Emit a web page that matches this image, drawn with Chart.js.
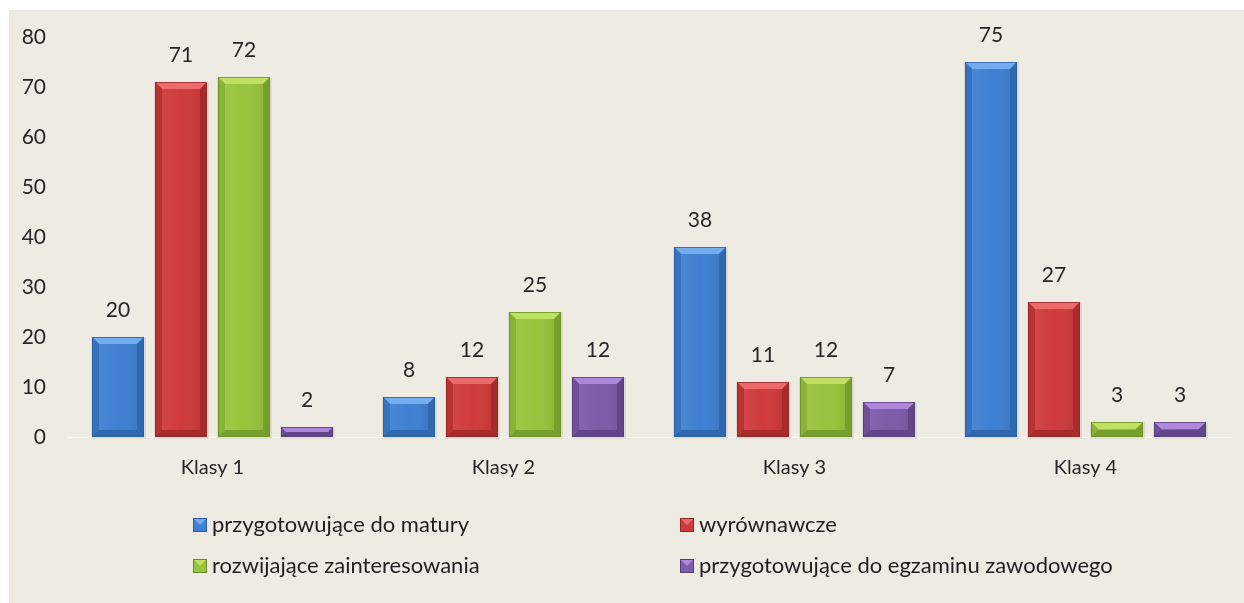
<!DOCTYPE html>
<html>
<head>
<meta charset="utf-8">
<script src="https://cdn.jsdelivr.net/npm/chart.js@4.4.1/dist/chart.umd.min.js"></script>
<style>
html,body{margin:0;padding:0;background:#ffffff;}
#wrap{width:1244px;height:603px;position:relative;}
</style>
</head>
<body>
<div id="wrap"><canvas id="c" width="1244" height="603"></canvas></div>
<script>
const categories = ["Klasy 1", "Klasy 2", "Klasy 3", "Klasy 4"];
const seriesNames = ["przygotowujące do matury", "wyrównawcze", "rozwijające zainteresowania", "przygotowujące do egzaminu zawodowego"];
const maturaValues = [20, 8, 38, 75];
const wyrownawczeValues = [71, 12, 11, 27];
const rozwijajaceValues = [72, 25, 12, 3];
const zawodoweValues = [2, 12, 7, 3];
const yTicks = [0, 10, 20, 30, 40, 50, 60, 70, 80];

const FONT = "Lato, 'Open Sans', sans-serif";
const palette = [
  {main:"#3f80d2", light:"#73acef", dark:"#2a5e9e", side:"#3572c0"},
  {main:"#cf3b3b", light:"#ec6a6a", dark:"#952525", side:"#bb3232"},
  {main:"#98c33d", light:"#c0e062", dark:"#6b8f25", side:"#89b334"},
  {main:"#7d5ca8", light:"#ad88dc", dark:"#553c7a", side:"#6e4f98"}
];
const seriesValues = [maturaValues, wyrownawczeValues, rozwijajaceValues, zawodoweValues];

const bgPlugin = {
  id: "bg",
  beforeDraw(chart) {
    const ctx = chart.ctx;
    ctx.save();
    ctx.fillStyle = "#ffffff";
    ctx.fillRect(0, 0, chart.width, chart.height);
    ctx.fillStyle = "#eeebe2";
    ctx.fillRect(9, 10, chart.width - 9, chart.height - 10);
    ctx.restore();
  }
};

function bevelBar(ctx, x0, x1, top, bottom, p) {
  const h = bottom - top;
  const w = x1 - x0;
  const b = Math.min(7, h / 2, w / 2);
  ctx.fillStyle = p.main;
  ctx.fillRect(x0, top, w, h);
  ctx.fillStyle = p.light;
  ctx.beginPath();
  ctx.moveTo(x0, top); ctx.lineTo(x1, top); ctx.lineTo(x1 - b, top + b); ctx.lineTo(x0 + b, top + b); ctx.closePath(); ctx.fill();
  ctx.fillStyle = p.side;
  ctx.beginPath();
  ctx.moveTo(x0, top); ctx.lineTo(x0 + b, top + b); ctx.lineTo(x0 + b, bottom - b); ctx.lineTo(x0, bottom); ctx.closePath(); ctx.fill();
  ctx.fillStyle = p.dark;
  ctx.globalAlpha = 0.7;
  ctx.beginPath();
  ctx.moveTo(x1, top); ctx.lineTo(x1 - b, top + b); ctx.lineTo(x1 - b, bottom - b); ctx.lineTo(x1, bottom); ctx.closePath(); ctx.fill();
  ctx.beginPath();
  ctx.moveTo(x0, bottom); ctx.lineTo(x0 + b, bottom - b); ctx.lineTo(x1 - b, bottom - b); ctx.lineTo(x1, bottom); ctx.closePath(); ctx.fill();
  ctx.globalAlpha = 1;
  const g = ctx.createLinearGradient(x0 + b, 0, x1 - b, 0);
  g.addColorStop(0, "rgba(255,255,255,0.06)");
  g.addColorStop(0.5, "rgba(255,255,255,0.0)");
  g.addColorStop(1, "rgba(0,0,0,0.06)");
  ctx.fillStyle = g;
  if (h > 2 * b) ctx.fillRect(x0 + b, top + b, w - 2 * b, h - 2 * b);
  ctx.strokeStyle = p.dark;
  ctx.globalAlpha = 0.8;
  ctx.lineWidth = 1;
  ctx.strokeRect(x0 + 0.5, top + 0.5, w - 1, h - 1);
  ctx.globalAlpha = 1;
}

const barPlugin = {
  id: "bevelBars",
  afterDatasetsDraw(chart) {
    const ctx = chart.ctx;
    ctx.save();
    chart.data.datasets.forEach((ds, di) => {
      const meta = chart.getDatasetMeta(di);
      const p = palette[di];
      meta.data.forEach((bar, i) => {
        const x0 = Math.round(bar.x - bar.width / 2);
        const x1 = Math.round(bar.x + bar.width / 2);
        const top = Math.round(bar.y);
        const bottom = Math.round(bar.base);
        ctx.fillStyle = "rgba(0,0,0,0.07)";
        ctx.fillRect(x0 - 1, top, x1 - x0 + 3, bottom - top + 2);
        bevelBar(ctx, x0, x1, top, bottom, p);
        ctx.fillStyle = "#262626";
        ctx.font = "21px " + FONT;
        ctx.textAlign = "center";
        ctx.textBaseline = "middle";
        ctx.fillText(String(ds.data[i]), bar.x, bar.y - 27);
      });
    });
    ctx.restore();
  }
};

const legendPlugin = {
  id: "customLegend",
  afterDraw(chart) {
    const ctx = chart.ctx;
    ctx.save();
    const cols = [193, 680];
    const rows = [525, 566];
    chart.data.datasets.forEach((ds, di) => {
      const x = cols[di % 2];
      const y = rows[Math.floor(di / 2)];
      const p = palette[di];
      const s = 14;
      const top = y - s / 2;
      ctx.fillStyle = p.dark;
      ctx.fillRect(x, top, s, s);
      ctx.fillStyle = p.main;
      ctx.fillRect(x + 1, top + 1, s - 2, s - 2);
      ctx.fillStyle = p.light;
      ctx.beginPath();
      ctx.moveTo(x + 1, top + 1); ctx.lineTo(x + s - 1, top + 1); ctx.lineTo(x + s / 2, top + s / 2); ctx.closePath(); ctx.fill();
      ctx.fillStyle = "#1f1f1f";
      ctx.font = "22px " + FONT;
      ctx.textAlign = "left";
      ctx.textBaseline = "middle";
      ctx.fillText(ds.label, x + 19, y);
    });
    ctx.restore();
  }
};

const datasets = seriesNames.map((name, i) => ({
  label: name,
  data: seriesValues[i],
  backgroundColor: "rgba(0,0,0,0)",
  borderWidth: 0,
  barPercentage: 0.825,
  categoryPercentage: 0.866
}));

new Chart(document.getElementById("c"), {
  type: "bar",
  data: { labels: categories, datasets },
  options: {
    responsive: false,
    animation: false,
    devicePixelRatio: 1,
    layout: { padding: { left: 9, right: 13, top: 37, bottom: 116 } },
    plugins: { legend: { display: false }, tooltip: { enabled: false } },
    scales: {
      x: {
        grid: { display: false, drawTicks: false },
        border: { display: true, color: "rgba(255,255,255,0.6)" },
        ticks: { color: "#262626", font: { family: FONT, size: 20 }, padding: 19 },
        afterFit(s) { s.height = 50; }
      },
      y: {
        min: 0, max: 80,
        afterBuildTicks(s) { s.ticks = yTicks.map(v => ({ value: v })); },
        grid: { display: false, drawTicks: false },
        border: { display: false },
        ticks: { color: "#262626", font: { family: FONT, size: 21 }, padding: 21 },
        afterFit(s) { s.width = 58; }
      }
    }
  },
  plugins: [bgPlugin, barPlugin, legendPlugin]
});
</script>
</body>
</html>
